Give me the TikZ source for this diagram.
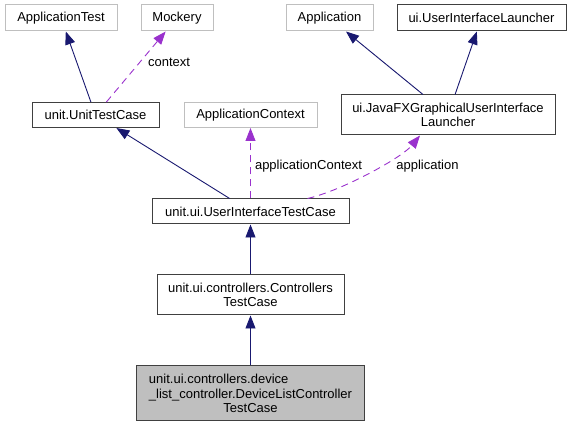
\documentclass[tikz,border=0pt]{standalone}
\usepackage{fontspec}
\setmainfont{Liberation Sans}
\usetikzlibrary{arrows.meta}
\definecolor{edgeblue}{HTML}{191970}
\definecolor{edgepurple}{HTML}{9A32CD}
\definecolor{boxgray}{HTML}{BFBFBF}

\begin{document}
\begin{tikzpicture}[x=1pt,y=-1pt,
    font=\fontsize{13}{14.5}\selectfont,
    cls/.style={draw=black!75,line width=1pt,inner sep=0pt,align=center},
    ext/.style={draw=boxgray,line width=1pt,inner sep=0pt,align=center},
    inherit/.style={edgeblue,line width=0.9pt,-{Triangle[length=13pt,width=10pt]}},
    usage/.style={edgepurple,line width=0.9pt,dash pattern=on 7pt off 5pt,
      -{Triangle[length=13pt,width=10pt]}},
    lbl/.style={inner sep=0pt}]
  \useasboundingbox (0,0) rectangle (571,427);

  % top row
  \node[ext,minimum width=112pt,minimum height=26pt] (apptest) at (61,18) {ApplicationTest};
  \node[ext,minimum width=72pt,minimum height=26pt] (mockery) at (177,18) {Mockery};
  \node[ext,minimum width=87pt,minimum height=26pt] (app) at (329.5,18) {Application};
  \node[cls,minimum width=169pt,minimum height=26pt] (uil) at (481.5,18) {ui.UserInterfaceLauncher};

  % second row
  \node[cls,minimum width=127pt,minimum height=25pt] (unit) at (95.5,115) {unit.UnitTestCase};
  \node[ext,minimum width=133pt,minimum height=25pt] (appctx) at (250.5,115) {ApplicationContext};
  \node[cls,minimum width=214pt,minimum height=40pt] (javafx) at (448,115)
    {ui.JavaFXGraphicalUserInterface\\Launcher};

  % lower chain
  \node[cls,minimum width=197pt,minimum height=25pt] (uitc) at (250.5,211.5) {unit.ui.UserInterfaceTestCase};
  \node[cls,minimum width=187pt,minimum height=40pt] (ctrl) at (250.5,295)
    {unit.ui.controllers.Controllers\\TestCase};
  \node[cls,fill=boxgray,minimum width=228pt,minimum height=55pt] (dev) at (250.5,393.5)
    {\rlap{unit.ui.controllers.device}\phantom{\_list\_controller.DeviceListController}\\
     \_list\_controller.DeviceListController\\TestCase};

  % inheritance
  \draw[inherit] (unit) -- (apptest);
  \draw[inherit] (uitc) -- (unit);
  \draw[inherit] (javafx) -- (app);
  \draw[inherit] (javafx) -- (uil);
  \draw[inherit] (ctrl) -- (uitc);
  \draw[inherit] (dev) -- (ctrl);

  % usage
  \draw[usage] (unit) -- (mockery);
  \node[lbl] (ctxlbl) at (169,62) {context};
  \draw[usage] (uitc) -- (appctx);
  \node[lbl] (appctxlbl) at (308.5,166) {applicationContext};
  \draw[usage] ([xshift=57pt]uitc.north) .. controls +(35,-8) and +(-18,22) .. ([xshift=-28pt]javafx.south);
  \node[lbl] (applbl) at (427.5,166) {application};
\end{tikzpicture}
\end{document}
